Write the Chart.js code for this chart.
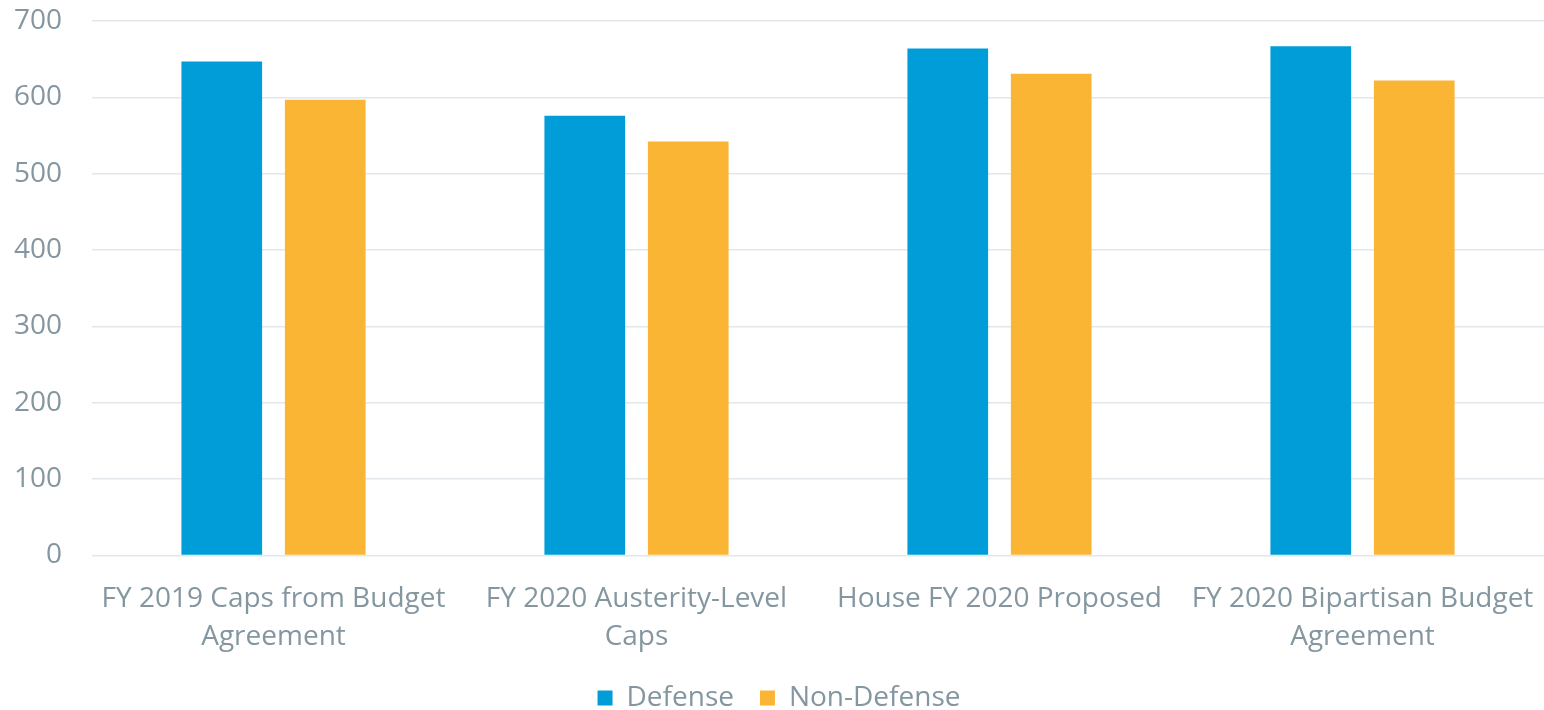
<!DOCTYPE html>
<html>
<head>
<meta charset="utf-8">
<script src="https://cdn.jsdelivr.net/npm/chart.js@4/dist/chart.umd.min.js"></script>
<style>
    html, body { margin: 0; padding: 0; background: #fff; }
    #wrap { width: 1544px; height: 710px; }
</style>
</head>
<body>
<div id="wrap"><canvas id="budgetChart"></canvas></div>
<script>
const categories = [
    ["FY 2019 Caps from Budget", "Agreement"],
    ["FY 2020 Austerity-Level", "Caps"],
    "House FY 2020 Proposed",
    ["FY 2020 Bipartisan Budget", "Agreement"]
];
const defense = [647, 576, 664, 667];
const nonDefense = [597, 542, 631, 622];

const textColor = "#8497a0";
const font = { family: "'Open Sans', sans-serif", size: 28, lineHeight: 1.32 };

new Chart(document.getElementById("budgetChart"), {
    type: 'bar',
    data: {
        labels: categories,
        datasets: [{
            label: "Defense",
            data: defense,
            backgroundColor: "#019dd9"
        }, {
            label: "Non-Defense",
            data: nonDefense,
            backgroundColor: "#fbb535"
        }]
    },
    options: {
        responsive: true,
        maintainAspectRatio: false,
        animation: false,
        datasets: {
            bar: { categoryPercentage: 0.57, barPercentage: 0.78 }
        },
        layout: { padding: { left: 14, top: 21, right: 0, bottom: -12 } },
        scales: {
            x: {
                grid: { display: false },
                border: { display: false },
                ticks: {
                    color: textColor,
                    font: { family: font.family, size: 28, lineHeight: 1.35 },
                    maxRotation: 0,
                    padding: 17
                },
                // keep the plot edge-to-edge like the original, and tighten the gap to the legend
                afterFit: (s) => { s.paddingLeft = 0; s.paddingRight = 0; s.height -= 15; }
            },
            y: {
                min: 0,
                max: 700,
                grid: { color: "#e2e7eb", lineWidth: 1.5, drawTicks: false },
                border: { display: false },
                ticks: { stepSize: 100, color: textColor, font: font, padding: 30 },
                afterFit: (s) => { s.paddingTop = 0; s.paddingBottom = 0; s.width = 78; }
            }
        },
        plugins: {
            legend: {
                position: 'bottom',
                labels: { color: textColor, font: font, boxWidth: 15, boxHeight: 15, padding: 26 }
            },
            tooltip: { enabled: false }
        }
    }
});
</script>
</body>
</html>
